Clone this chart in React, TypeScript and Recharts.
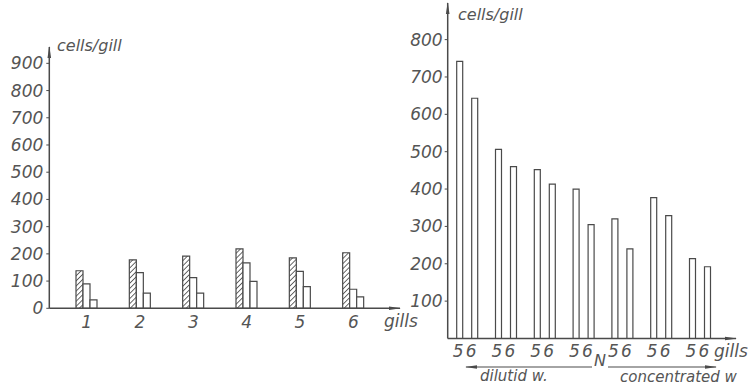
import React from 'react';
import { BarChart, Bar, XAxis, YAxis } from 'recharts';

// ---- left panel data ----
const gillCategories = ['1', '2', '3', '4', '5', '6'];
const hatchedValues = [138, 178, 192, 218, 185, 204];
const whiteValues = [90, 131, 113, 167, 136, 70];
const smallValues = [31, 56, 56, 99, 80, 42];
const leftYTicks = [0, 100, 200, 300, 400, 500, 600, 700, 800, 900];

// ---- right panel data ----
const pairGroups = ['g1', 'g2', 'g3', 'g4', 'g5', 'g6', 'g7'];
const gill5Values = [742, 506, 452, 400, 320, 377, 214];
const gill6Values = [643, 460, 413, 305, 240, 329, 192];
const pairTickLabels = ['5', '6'];
const rightYTicks = [100, 200, 300, 400, 500, 600, 700, 800];

const leftData = gillCategories.map((c, i) => ({
  gill: c,
  a: hatchedValues[i],
  b: whiteValues[i],
  c: smallValues[i],
}));

const rightData = pairGroups.map((g, i) => ({
  grp: g,
  g5: gill5Values[i],
  g6: gill6Values[i],
}));

const FONT = "'DejaVu Sans', 'Liberation Sans', sans-serif";
const INK = '#4a4a4a';
const TXT = '#555';

const tickStyle = {
  fontFamily: FONT,
  fontStyle: 'italic' as const,
  fontSize: 17,
  fill: TXT,
};

const PairTick = (props: any) => {
  const { x, y } = props;
  return (
    <g>
      <text x={x - 9} y={y - 1.5} dy="0.71em" textAnchor="middle" style={tickStyle}>
        {pairTickLabels[0]}
      </text>
      <text x={x + 4} y={y - 1.5} dy="0.71em" textAnchor="middle" style={tickStyle}>
        {pairTickLabels[1]}
      </text>
    </g>
  );
};

function Markers({ prefix }: { prefix: string }) {
  return (
    <defs>
      <marker
        id={`${prefix}-arrow`}
        markerUnits="userSpaceOnUse"
        markerWidth="12"
        markerHeight="6"
        refX="11"
        refY="3"
        orient="auto-start-reverse"
      >
        <path d="M0,1.2 L12,3 L0,4.8 z" fill={INK} />
      </marker>
      <pattern
        id={`${prefix}-hatch`}
        width="3.6"
        height="3.6"
        patternUnits="userSpaceOnUse"
        patternTransform="rotate(45)"
      >
        <rect width="3.6" height="3.6" fill="#fff" />
        <line x1="0" y1="0" x2="0" y2="3.6" stroke="#444" strokeWidth="1.6" />
      </pattern>
    </defs>
  );
}

export default function App() {
  return (
    <div
      style={{
        position: 'absolute',
        left: 0,
        top: 0,
        width: 750,
        height: 386,
        background: '#fff',
        overflow: 'hidden',
      }}
    >
      <div style={{ position: 'absolute', left: 0, top: 0 }}>
        <BarChart
          width={420}
          height={386}
          data={leftData}
          margin={{ top: 47, right: 20, bottom: 47.7, left: 4.3 }}
          barSize={7}
          barGap={0}
        >
          <Markers prefix="L" />
          <XAxis
            dataKey="gill"
            height={30}
            padding={{ left: 10.7, right: 20 }}
            tickLine={false}
            axisLine={{ stroke: INK, strokeWidth: 1.5, markerEnd: 'url(#L-arrow)' }}
            tick={tickStyle}
            interval={0}
          />
          <YAxis
            width={45}
            domain={[0, 960]}
            ticks={leftYTicks}
            interval={0}
            tickSize={3}
            tickMargin={3}
            tickLine={{ stroke: INK }}
            axisLine={{ stroke: INK, strokeWidth: 1.5, markerStart: 'url(#L-arrow)' }}
            tick={tickStyle}
          />
          <Bar dataKey="a" fill="url(#L-hatch)" stroke={INK} strokeWidth={1.2} isAnimationActive={false} />
          <Bar dataKey="b" fill="#fff" stroke={INK} strokeWidth={1.2} isAnimationActive={false} />
          <Bar dataKey="c" fill="#fff" stroke={INK} strokeWidth={1.2} isAnimationActive={false} />
        </BarChart>
      </div>

      <div style={{ position: 'absolute', left: 380, top: 0 }}>
        <BarChart
          width={370}
          height={386}
          data={rightData}
          margin={{ top: 3, right: 14, bottom: 17.5, left: 17.7 }}
          barSize={6}
          barGap={9}
        >
          <Markers prefix="R" />
          <XAxis
            dataKey="grp"
            height={30}
            padding={{ left: 0, right: 16.7 }}
            tickLine={false}
            axisLine={{ stroke: INK, strokeWidth: 1.5, markerEnd: 'url(#R-arrow)' }}
            tick={<PairTick />}
            interval={0}
          />
          <YAxis
            width={50}
            domain={[0, 898]}
            ticks={rightYTicks}
            interval={0}
            tickSize={3}
            tickMargin={2}
            tickLine={{ stroke: INK }}
            axisLine={{ stroke: INK, strokeWidth: 1.5, markerStart: 'url(#R-arrow)' }}
            tick={tickStyle}
          />
          <Bar dataKey="g5" fill="#fff" stroke={INK} strokeWidth={1.2} isAnimationActive={false} />
          <Bar dataKey="g6" fill="#fff" stroke={INK} strokeWidth={1.2} isAnimationActive={false} />
        </BarChart>
      </div>

      <svg
        width={750}
        height={386}
        style={{ position: 'absolute', left: 0, top: 0, pointerEvents: 'none' }}
      >
        <defs>
          <marker
            id="O-arrow"
            markerUnits="userSpaceOnUse"
            markerWidth="12"
            markerHeight="6"
            refX="11"
            refY="3"
            orient="auto-start-reverse"
          >
            <path d="M0,1.2 L12,3 L0,4.8 z" fill={INK} />
          </marker>
        </defs>
        <g style={{ fontFamily: FONT, fontStyle: 'italic', fill: TXT }}>
          <text x={57} y={51} fontSize={16}>cells/gill</text>
          <text x={458} y={20} fontSize={16}>cells/gill</text>
          <text x={384} y={327} fontSize={17}>gills</text>
          <text x={714} y={357} fontSize={17}>gills</text>
          <text x={600} y={366} fontSize={16} textAnchor="middle">N</text>
          <text x={480} y={381} fontSize={15}>dilutid w.</text>
          <text x={620} y={382} fontSize={15}>concentrated w</text>
        </g>
        <line x1={466} y1={367} x2={592} y2={367} stroke={INK} strokeWidth={1.2} markerStart="url(#O-arrow)" />
        <line x1={608} y1={367} x2={716} y2={367} stroke={INK} strokeWidth={1.2} markerEnd="url(#O-arrow)" />
      </svg>
    </div>
  );
}
